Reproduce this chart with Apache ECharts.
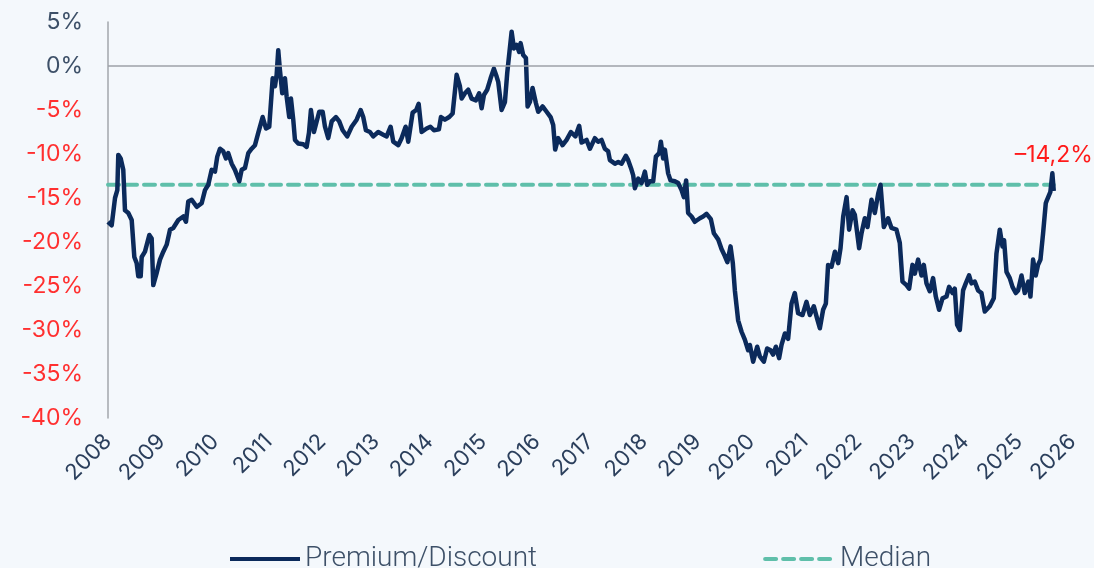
<!DOCTYPE html>
<html>
<head>
<meta charset="utf-8">
<script src="https://cdn.jsdelivr.net/npm/echarts@6/dist/echarts.min.js"></script>
<style>
html,body{margin:0;padding:0;background:#f4f8fc;}
#chart{width:1094px;height:568px;}
</style>
</head>
<body>
<div id="chart"></div>
<script>
// Decimal-year positions of observations
const years = [
2008.000,2008.069,2008.131,2008.174,2008.192,2008.237,2008.256,2008.285,2008.317,2008.379,
2008.442,2008.491,2008.535,2008.565,2008.610,2008.629,2008.690,2008.771,2008.815,2008.845,
2008.909,2008.970,2009.032,2009.095,2009.157,2009.218,2009.312,2009.405,2009.455,2009.498,
2009.562,2009.655,2009.748,2009.810,2009.871,2009.935,2009.996,2010.039,2010.090,2010.151,
2010.201,2010.244,2010.308,2010.369,2010.450,2010.494,2010.556,2010.618,2010.681,2010.743,
2010.804,2010.886,2010.948,2011.009,2011.073,2011.116,2011.147,2011.177,2011.209,2011.252,
2011.302,2011.334,2011.382,2011.414,2011.457,2011.489,2011.550,2011.644,2011.707,2011.750,
2011.787,2011.843,2011.894,2011.942,2012.006,2012.049,2012.110,2012.174,2012.254,2012.315,
2012.379,2012.465,2012.547,2012.640,2012.715,2012.763,2012.813,2012.888,2012.950,2013.043,
2013.136,2013.200,2013.274,2013.323,2013.416,2013.479,2013.554,2013.603,2013.685,2013.752,
2013.797,2013.853,2013.946,2014.017,2014.082,2014.175,2014.213,2014.287,2014.368,2014.431,
2014.506,2014.567,2014.599,2014.660,2014.722,2014.786,2014.866,2014.927,2014.972,2015.015,
2015.076,2015.140,2015.201,2015.252,2015.282,2015.345,2015.407,2015.450,2015.532,2015.575,
2015.625,2015.673,2015.700,2015.748,2015.799,2015.830,2015.873,2015.923,2015.985,2016.028,
2016.110,2016.185,2016.259,2016.308,2016.345,2016.401,2016.483,2016.558,2016.638,2016.722,
2016.793,2016.838,2016.931,2016.993,2017.086,2017.147,2017.211,2017.272,2017.334,2017.366,
2017.459,2017.521,2017.584,2017.664,2017.707,2017.770,2017.800,2017.832,2017.894,2017.957,
2018.019,2018.062,2018.112,2018.174,2018.224,2018.286,2018.317,2018.360,2018.392,2018.453,
2018.498,2018.578,2018.640,2018.703,2018.746,2018.789,2018.826,2018.890,2018.951,2019.045,
2019.106,2019.170,2019.250,2019.306,2019.386,2019.449,2019.511,2019.558,2019.617,2019.660,
2019.698,2019.759,2019.823,2019.884,2019.946,2019.978,2020.039,2020.114,2020.164,2020.239,
2020.300,2020.364,2020.412,2020.463,2020.524,2020.569,2020.631,2020.692,2020.755,2020.817,
2020.879,2020.960,2021.034,2021.097,2021.172,2021.233,2021.284,2021.345,2021.396,2021.438,
2021.502,2021.565,2021.626,2021.670,2021.720,2021.783,2021.830,2021.894,2021.937,2022.017,
2022.062,2022.123,2022.174,2022.248,2022.310,2022.373,2022.416,2022.478,2022.558,2022.621,
2022.714,2022.776,2022.826,2022.901,2022.950,2023.013,2023.056,2023.118,2023.181,2023.224,
2023.274,2023.336,2023.397,2023.448,2023.509,2023.573,2023.647,2023.696,2023.759,2023.802,
2023.845,2023.896,2023.957,2024.007,2024.069,2024.114,2024.175,2024.237,2024.300,2024.362,
2024.455,2024.530,2024.580,2024.642,2024.692,2024.722,2024.767,2024.828,2024.879,2024.940,
2024.983,2025.047,2025.108,2025.174,2025.214,2025.263,2025.313,2025.356,2025.401,2025.450,
2025.500,2025.524,2025.586,2025.623,2025.649
];
// Premium/Discount (%)
const premium = [
-17.7,-18.1,-15.0,-14.1,-10.1,-10.5,-10.3,-11.8,-16.4,-16.7,
-17.5,-21.7,-22.4,-23.9,-23.9,-21.7,-21.1,-19.2,-19.6,-24.9,
-23.5,-22.0,-21.1,-20.3,-18.6,-18.4,-17.5,-17.1,-17.7,-15.4,
-15.2,-16.0,-15.6,-14.1,-13.5,-11.8,-12.0,-10.3,-9.4,-9.7,
-10.5,-9.9,-11.1,-11.8,-13.1,-11.8,-11.6,-9.9,-9.4,-9.0,
-7.6,-5.8,-7.1,-6.9,-1.4,-2.3,-1.0,1.8,-0.5,-3.1,
-1.4,-3.5,-5.8,-3.7,-6.1,-8.4,-8.8,-8.9,-9.2,-7.6,
-5.0,-7.5,-6.3,-5.2,-5.2,-6.9,-8.2,-6.3,-5.8,-6.3,
-7.3,-8.0,-6.9,-6.1,-5.0,-5.8,-7.3,-7.5,-8.0,-7.5,
-7.8,-8.0,-6.9,-8.6,-9.0,-8.2,-6.9,-8.6,-5.3,-5.0,
-4.3,-7.5,-7.1,-6.9,-7.3,-7.2,-5.8,-6.1,-5.8,-5.4,
-1.0,-2.3,-3.7,-3.1,-2.7,-3.7,-3.9,-3.1,-4.8,-3.3,
-2.7,-1.4,-0.3,-1.2,-1.8,-5.0,-4.1,-0.8,3.9,2.0,
2.4,1.6,2.6,1.25,0.9,-4.6,-4.1,-2.5,-4.2,-5.2,
-4.6,-5.2,-5.8,-6.7,-9.5,-8.2,-9.0,-8.4,-7.5,-8.0,
-6.8,-8.7,-8.4,-9.4,-8.2,-8.6,-8.4,-9.4,-9.7,-10.7,
-11.1,-10.9,-11.1,-10.2,-10.7,-11.8,-12.4,-13.9,-12.8,-13.3,
-12.0,-13.5,-13.1,-13.1,-10.3,-9.9,-8.6,-10.5,-9.5,-12.2,
-13.0,-13.1,-13.3,-14.1,-14.9,-13.0,-16.7,-17.1,-17.7,-17.3,
-17.1,-16.8,-17.4,-19.0,-19.7,-20.8,-21.6,-22.3,-20.5,-22.4,
-25.5,-28.9,-30.2,-31.1,-32.3,-31.7,-33.6,-31.9,-33.0,-33.6,
-32.1,-32.3,-32.8,-31.9,-33.2,-31.7,-30.4,-31.0,-27.0,-25.8,
-28.1,-28.3,-26.8,-28.3,-27.3,-28.7,-29.8,-27.7,-27.0,-22.6,
-22.8,-21.1,-22.4,-20.7,-17.1,-14.9,-18.6,-16.4,-16.9,-20.7,
-19.0,-17.3,-18.3,-15.2,-16.7,-14.5,-13.5,-18.3,-17.3,-18.4,
-18.6,-20.1,-24.5,-24.9,-25.3,-22.6,-23.6,-22.0,-23.8,-22.6,
-24.7,-25.6,-24.1,-26.2,-27.7,-26.4,-26.2,-25.1,-25.8,-25.3,
-29.4,-30.0,-25.5,-24.7,-23.8,-24.7,-24.5,-25.5,-25.8,-27.9,
-27.3,-26.4,-21.3,-18.6,-20.5,-19.8,-23.4,-24.1,-25.1,-25.8,
-25.5,-23.8,-25.8,-24.5,-26.2,-22.0,-23.8,-22.6,-22.0,-19.0,
-15.6,-15.2,-14.3,-12.2,-14.2
];
const medianValue = -13.5;
const medianSpan = [2008.0, 2025.649];
const yTicks = [-40,-35,-30,-25,-20,-15,-10,-5,0,5];
const lastLabel = '\u201314,2%';

const premiumData = years.map((y,i)=>[y, premium[i]]);
const medianData = medianSpan.map(y=>[y, medianValue]);
const lastPoint = premiumData[premiumData.length-1];

const chart = echarts.init(document.getElementById('chart'), null, {renderer:'canvas'});
chart.setOption({
  backgroundColor:'#f4f8fc',
  animation:false,
  grid:{left:108, right:0, top:22, bottom:150, containLabel:false},
  legend:{
    left:223, top:540, itemGap:226, itemWidth:70, itemHeight:14,
    itemStyle:{opacity:0},
    lineStyle:{width:4},
    textStyle:{color:'#3d5068', fontSize:28, fontFamily:'Roboto', fontWeight:300},
    data:['Premium/Discount','Median']
  },
  xAxis:{
    type:'value', min:2008, max:2026.4, interval:1,
    axisLine:{show:false}, axisTick:{show:false}, splitLine:{show:false},
    axisLabel:{
      rotate:45, margin:20, fontSize:22, color:'#2b3f5c', fontFamily:'Inter',
      showMaxLabel:false,
      formatter:v=>String(Math.round(v))
    }
  },
  yAxis:{
    type:'value', min:yTicks[0], max:yTicks[yTicks.length-1], interval:5,
    axisLine:{show:true, lineStyle:{color:'#a3a7ad', width:1.5}},
    axisTick:{show:false}, splitLine:{show:false},
    axisLabel:{
      margin:25, fontSize:23, fontFamily:'Inter',
      formatter:v=>v+'%',
      color:v=>(Number(v)<0?'#ff3030':'#3d5068')
    }
  },
  series:[
    {
      name:'Median', type:'line', data:medianData, z:1,
      symbol:'none', showSymbol:false,
      lineStyle:{color:'#5fbfaa', width:4, type:[11,7], cap:'round'},
      itemStyle:{color:'#5fbfaa'},
      markLine:{
        silent:true, symbol:['none','none'],
        label:{show:false},
        lineStyle:{color:'#9ea2a8', width:1.5, type:'solid'},
        data:[{yAxis:0}]
      }
    },
    {
      name:'Premium/Discount', type:'line', data:premiumData, z:3,
      symbol:'none', showSymbol:false,
      lineStyle:{color:'#0b2a5b', width:4.5, join:'round'},
      itemStyle:{color:'#0b2a5b'},
      markPoint:{
        silent:true,
        symbol:'circle', symbolSize:1,
        itemStyle:{color:'rgba(0,0,0,0)'},
        label:{
          show:true, position:'inside', offset:[0,-36],
          formatter:lastLabel, color:'#ff1a1a', fontSize:23, fontFamily:'Inter'
        },
        data:[{coord:lastPoint}]
      }
    }
  ]
});
</script>
</body>
</html>
